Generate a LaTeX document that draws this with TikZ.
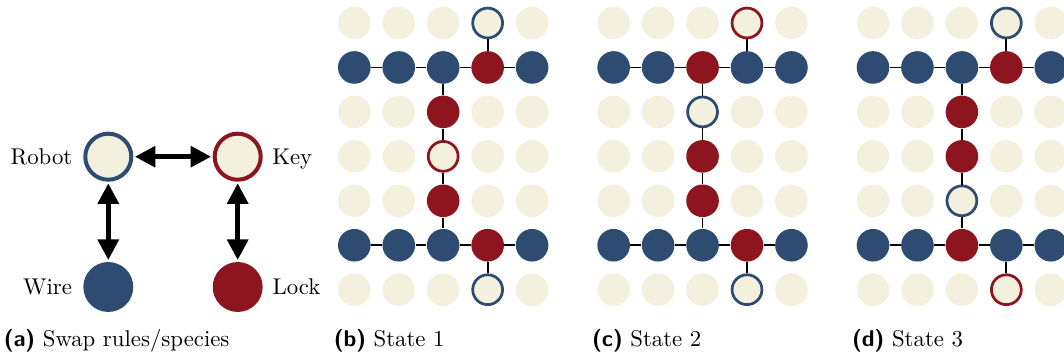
\documentclass[tikz,border=0pt]{standalone}
\usepackage{tikz}
\usetikzlibrary{positioning}
\usetikzlibrary{arrows.meta}
\definecolor{wireblue}{HTML}{2E4B72}
\definecolor{lockred}{HTML}{8C1520}
\definecolor{cream}{HTML}{F3F0DE}

\begin{document}
\begin{tikzpicture}[x=0.4386pt,y=-0.4386pt,
    cell/.style={circle,fill=cream,minimum size=14.3pt,inner sep=0pt},
    wire/.style={cell,fill=wireblue},
    lock/.style={cell,fill=lockred},
    robot/.style={cell,draw=wireblue,line width=1.2pt,minimum size=13.1pt},
    key/.style={robot,draw=lockred},
    big/.style={minimum size=21.9pt},
    bigring/.style={line width=1.75pt,minimum size=20.2pt},
    bond/.style={line width=0.8pt},
    swap/.style={{Triangle[length=9pt,width=9pt]}-{Triangle[length=9pt,width=9pt]},line width=2pt,shorten >=0.7pt,shorten <=0.7pt},
    lbl/.style={inner sep=0pt,text height=6.83pt,text depth=0pt},
    capt/.style={anchor=base west,inner sep=0pt}]

  \useasboundingbox (0,0) rectangle (1064,356);

  % (a) species
  \node[robot,bigring] (robot) at (108.3,156.7) {};
  \node[key,bigring]   (key)   at (237.7,156.7) {};
  \node[wire,big]      (wire)  at (108.3,287)   {};
  \node[lock,big]      (lock)  at (237.7,287)   {};

  \node[lbl] (robotlbl) [left=4.6pt of robot]  {Robot};
  \node[lbl] (keylbl)   [right=4pt of key]     {Key};
  \node[lbl] (wirelbl)  [left=4.6pt of wire]   {Wire};
  \node[lbl] (locklbl)  [right=4pt of lock]    {Lock};

  \draw[swap] (robot) -- (key);
  \draw[swap] (robot) -- (wire);
  \draw[swap] (key)   -- (lock);

  % (b) state 1
  \foreach \row [count=\r] in {{cell,cell,cell,robot,cell},{wire,wire,wire,lock,wire},
      {cell,cell,lock,cell,cell},{cell,cell,key,cell,cell},{cell,cell,lock,cell,cell},
      {wire,wire,wire,lock,wire},{cell,cell,cell,robot,cell}}
    \foreach \k [count=\c] in \row
      \node[\k] (b-\r-\c) at ({354.3+44.45*(\c-1)},{23+44.45*(\r-1)}) {};

  % (c) state 2
  \foreach \row [count=\r] in {{cell,cell,cell,key,cell},{wire,wire,lock,wire,wire},
      {cell,cell,robot,cell,cell},{cell,cell,lock,cell,cell},{cell,cell,lock,cell,cell},
      {wire,wire,wire,lock,wire},{cell,cell,cell,robot,cell}}
    \foreach \k [count=\c] in \row
      \node[\k] (c-\r-\c) at ({613.65+44.45*(\c-1)},{23+44.45*(\r-1)}) {};

  % (d) state 3
  \foreach \row [count=\r] in {{cell,cell,cell,robot,cell},{wire,wire,wire,lock,wire},
      {cell,cell,lock,cell,cell},{cell,cell,lock,cell,cell},{cell,cell,robot,cell,cell},
      {wire,wire,lock,wire,wire},{cell,cell,cell,key,cell}}
    \foreach \k [count=\c] in \row
      \node[\k] (d-\r-\c) at ({873+44.45*(\c-1)},{23+44.45*(\r-1)}) {};

  % bonds
  \foreach \p in {b,c,d} {
    \foreach \i/\j in {1/2,2/3,3/4,4/5} {
      \draw[bond] (\p-2-\i) -- (\p-2-\j);
      \draw[bond] (\p-6-\i) -- (\p-6-\j);
    }
    \foreach \i/\j in {2/3,3/4,4/5,5/6}
      \draw[bond] (\p-\i-3) -- (\p-\j-3);
    \draw[bond] (\p-1-4) -- (\p-2-4)
                (\p-6-4) -- (\p-7-4);
  }

  % captions
  \node[capt] (capa) at (3.3,346)   {\textsf{\textbf{(a)}} Swap rules/species};
  \node[capt] (capb) at (333.3,346) {\textsf{\textbf{(b)}} State 1};
  \node[capt] (capc) at (591.7,346) {\textsf{\textbf{(c)}} State 2};
  \node[capt] (capd) at (851.7,346) {\textsf{\textbf{(d)}} State 3};

\end{tikzpicture}
\end{document}
